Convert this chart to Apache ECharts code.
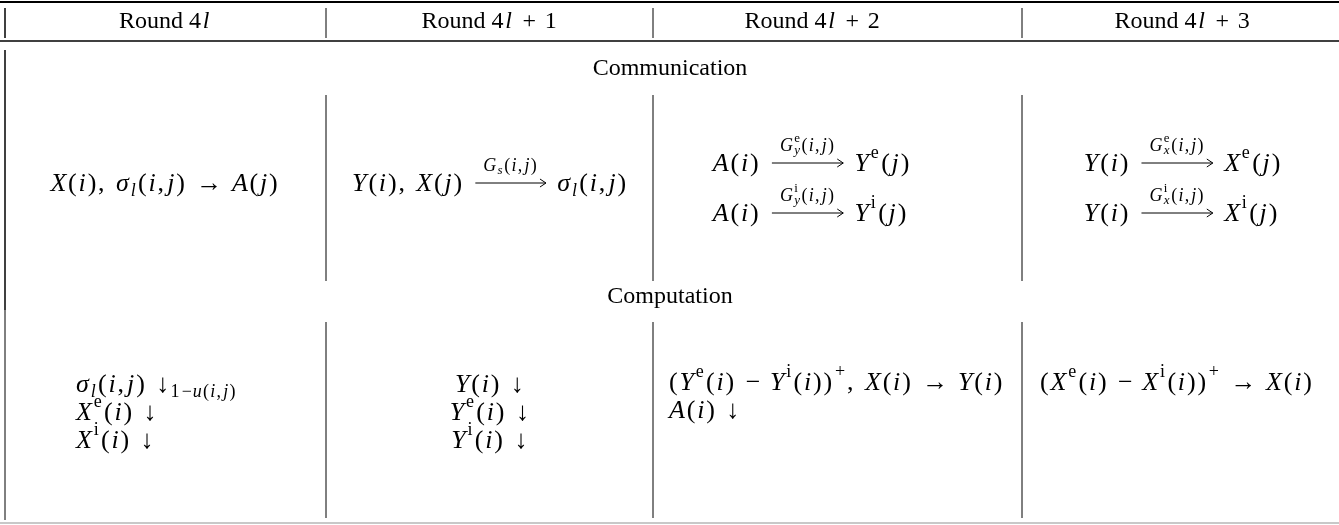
<!DOCTYPE html>
<html>
<head>
<meta charset="utf-8">
<script src="https://cdn.jsdelivr.net/npm/echarts@6/dist/echarts.min.js"></script>
<style>
html, body { margin: 0; padding: 0; background: #fff; }
#main { width: 1339px; height: 525px; }
</style>
</head>
<body>
<div id="main"></div>
<script>
// 表头 / 分组 / 单元格 (mini markup: _{} sub, ^{} sup, \a{} labelled arrow, \e \i fraktur)
var headers = ['Round 4l', 'Round 4l + 1', 'Round 4l + 2', 'Round 4l + 3'];
var groupLabels = ['Communication', 'Computation'];
var commCells = [
    ['X(i), σ_{l}(i,j) → A(j)'],
    ['Y(i), X(j) \\a{G_{s}(i,j)} σ_{l}(i,j)'],
    ['A(i) \\a{G^{\\e}_{y}(i,j)} Y^{\\e}(j)', 'A(i) \\a{G^{\\i}_{y}(i,j)} Y^{\\i}(j)'],
    ['Y(i) \\a{G^{\\e}_{x}(i,j)} X^{\\e}(j)', 'Y(i) \\a{G^{\\i}_{x}(i,j)} X^{\\i}(j)']
];
var compCells = [
    ['σ_{l}(i,j) ↓_{1−u(i,j)}', 'X^{\\e}(i) ↓', 'X^{\\i}(i) ↓'],
    ['Y(i) ↓', 'Y^{\\e}(i) ↓', 'Y^{\\i}(i) ↓'],
    ['(Y^{\\e}(i) − Y^{\\i}(i))^{+}, X(i) → Y(i)', 'A(i) ↓'],
    ['(X^{\\e}(i) − X^{\\i}(i))^{+} → X(i)']
];

var FONT = '"Liberation Serif", "Times New Roman", serif';
var BASE = 24;   // header text
var MATH = 26;   // math cells
var ctx = document.createElement('canvas').getContext('2d');
function fontStr(it, size) { return (it ? 'italic ' : '') + size + 'px ' + FONT; }
function textW(t, it, size) { ctx.font = fontStr(it, size); return ctx.measureText(t).width; }

function findClose(s, i) { // s[i] == '{'
    var d = 0;
    for (var k = i; k < s.length; k++) {
        if (s[k] == '{') d++;
        else if (s[k] == '}') { d--; if (d == 0) return k; }
    }
    return s.length;
}

// layout string -> list of drawn pieces, returns width
function layout(s, x, y, size, out) {
    var x0 = x, i = 0, scriptStart = null, scriptEnd = 0, lastWasScript = false;
    while (i < s.length) {
        var c = s[i];
        if ((c == '_' || c == '^') && s[i + 1] == '{') {
            var j = findClose(s, i + 1);
            var inner = s.slice(i + 2, j);
            var sz = Math.round(size * 0.7);
            var dy = c == '_' ? size * 0.28 : -size * 0.4;
            if (lastWasScript) { x = scriptStart; } else { scriptStart = x; scriptEnd = x; }
            var w = layout(inner, x, y + dy, sz, out);
            scriptEnd = Math.max(scriptEnd, x + w);
            x = scriptEnd + size * 0.04;
            lastWasScript = true;
            i = j + 1;
            continue;
        }
        lastWasScript = false;
        if (c == '\\' && s[i + 1] == 'a' && s[i + 2] == '{') {
            var j2 = findClose(s, i + 2);
            var lab = s.slice(i + 3, j2);
            var lsz = Math.round(size * 0.7);
            var lw = layout(lab, 0, 0, lsz, []);
            var aw = lw + 22;
            var lx = x + (aw - lw) / 2;
            layout(lab, lx, y - size * 0.7, lsz, out);
            var ay = y - 1;
            out.push({ type: 'line', shape: { x1: x + 3, y1: ay, x2: x + aw - 3, y2: ay }, style: { stroke: '#000', lineWidth: 1 } });
            out.push({ type: 'polyline', shape: { points: [[x + aw - 9, ay - 4], [x + aw - 3, ay], [x + aw - 9, ay + 4]] }, style: { stroke: '#000', lineWidth: 1, fill: null } });
            x += aw;
            i = j2 + 1;
            continue;
        }
        var t, it;
        if (c == '\\') { t = s[i + 1]; it = false; i += 2; }
        else { t = c; it = /[A-Za-zσ]/.test(c); i++; }
        if (t == ' ') { x += size * 0.32; continue; }
        if (t == ',') { out.push(mk(',', false, size, x, y)); x += textW(',', false, size) + size * 0.12; continue; }
        if (t == '→' || t == '↓' || t == '−' || t == '+') {
            out.push(mk(t, false, size, x + size * 0.05, y));
            x += textW(t, false, size) + size * 0.1;
            continue;
        }
        out.push(mk(t, it, size, x, y));
        x += textW(t, it, size) + size * 0.07;
    }
    return x - x0;
}
function mk(t, it, size, x, y) {
    return { type: 'text', x: x, y: y, style: { text: t, font: fontStr(it, size), fill: '#000', align: 'left', verticalAlign: 'middle' } };
}
function mathW(s, size) { return layout(s, 0, 0, size, []); }

var els = [];
function hline(y, x1, x2, w, color) {
    els.push({ type: 'line', shape: { x1: x1, y1: y, x2: x2, y2: y }, style: { stroke: color || '#000', lineWidth: w } });
}
function vline(x, y1, y2, w) {
    els.push({ type: 'line', shape: { x1: x, y1: y1, x2: x, y2: y2 }, style: { stroke: '#000', lineWidth: w || 1 } });
}
function plain(t, cx, y, size) {
    els.push({ type: 'text', x: cx, y: y, style: { text: t, font: size + 'px ' + FONT, fill: '#000', align: 'center', verticalAlign: 'middle' } });
}

// 线
hline(2, 0, 1339, 2);
hline(41, 0, 1339, 1.5);
hline(523, 0, 1339, 2, '#c8c8c8');
var seps = [326, 653, 1022];
vline(5, 8, 38, 1.5);
vline(5, 50, 310, 1.5);
vline(5, 310, 520, 1);
seps.forEach(function (x) {
    vline(x, 8, 38); vline(x, 95, 281); vline(x, 322, 518);
});

// 表头
var headCx = [165, 490, 813, 1183];
headers.forEach(function (h, k) {
    var m = h.match(/^(Round )(.*)$/);
    var rw = textW(m[1], false, BASE);
    var mw = mathW(m[2], BASE);
    var sx = headCx[k] - (rw + mw) / 2;
    els.push({ type: 'text', x: sx, y: 22, style: { text: m[1], font: BASE + 'px ' + FONT, fill: '#000', align: 'left', verticalAlign: 'middle' } });
    layout(m[2], sx + rw, 22, BASE, els);
});
plain(groupLabels[0], 670, 69, BASE);
plain(groupLabels[1], 670, 297, BASE);

// 通信行
var commCx = [165, 490, 812, 1183];
var commY = [[184], [184], [164], [164]];
commY[2].push(214); commY[3].push(214);
commCells.forEach(function (lines, k) {
    var w = 0;
    lines.forEach(function (s) { w = Math.max(w, mathW(s, MATH)); });
    lines.forEach(function (s, r) {
        layout(s, commCx[k] - w / 2, commY[k][r], MATH, els);
    });
});

// 计算行
var compLeft = [76, null, 669, 1040];
var compY = [[385, 413, 441], [385, 413, 441], [383, 411], [383]];
compCells.forEach(function (lines, k) {
    lines.forEach(function (s, r) {
        var x = compLeft[k] != null ? compLeft[k] : 490 - mathW(s, MATH) / 2;
        layout(s, x, compY[k][r], MATH, els);
    });
});

var myChart = echarts.init(document.getElementById('main'));
myChart.setOption({ animation: false, graphic: { elements: els } });
</script>
</body>
</html>
